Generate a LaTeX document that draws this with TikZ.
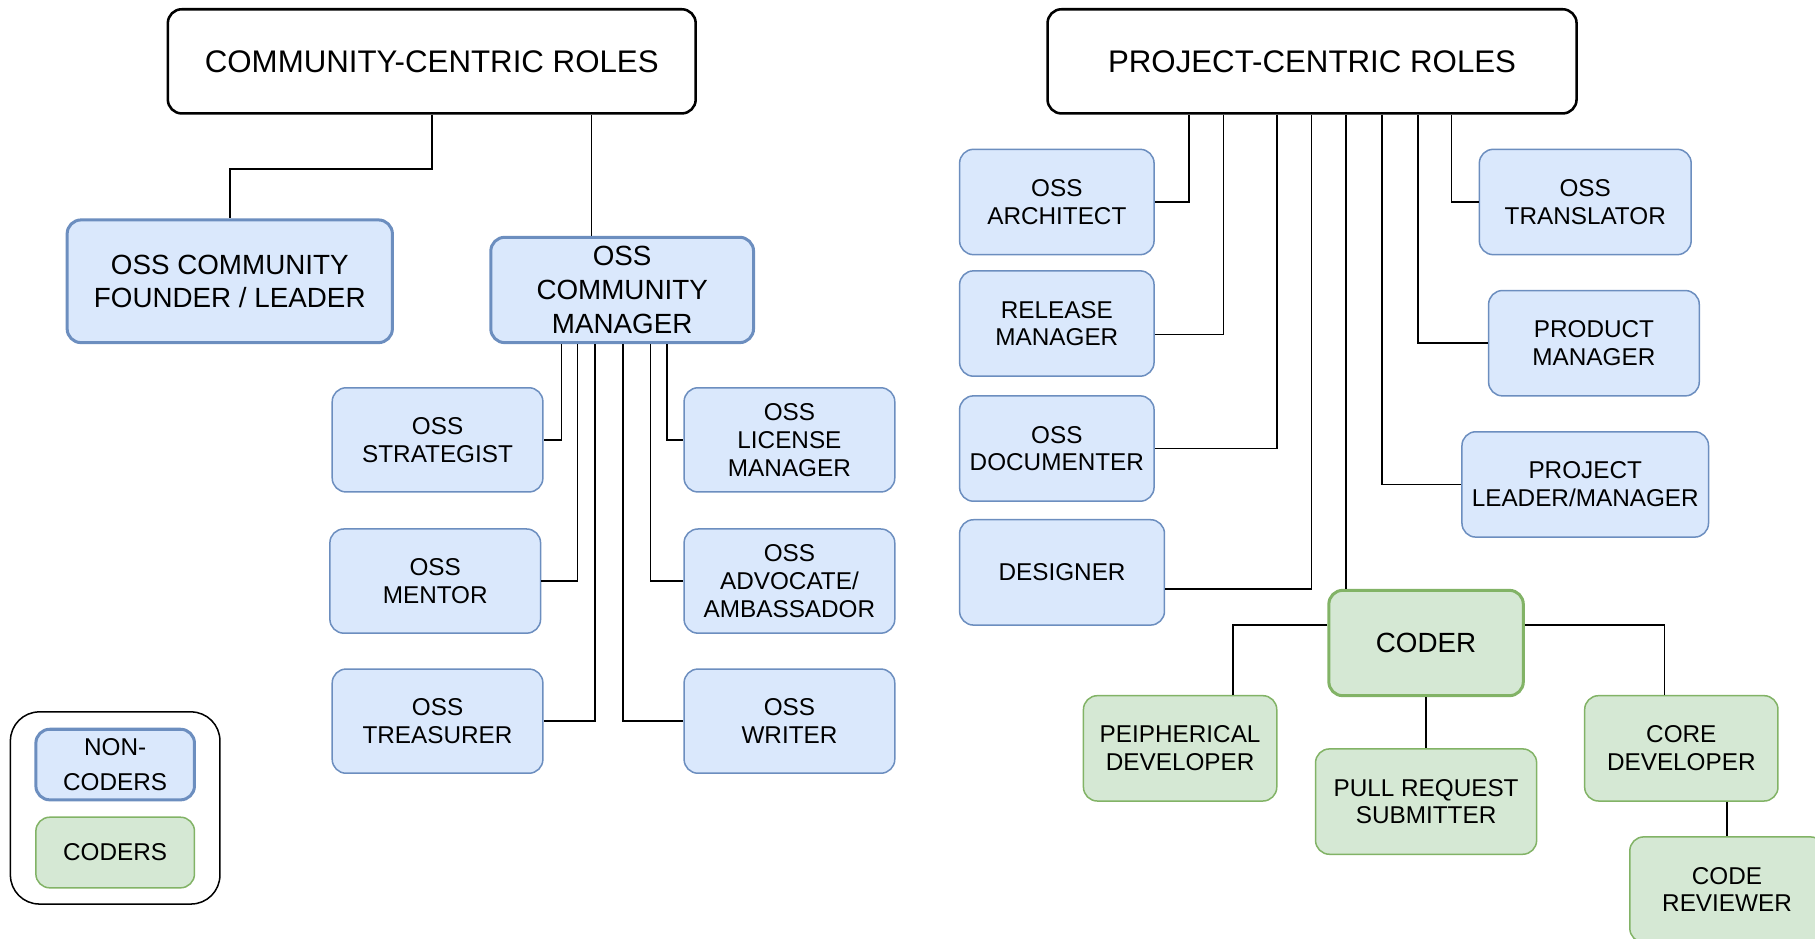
\documentclass[tikz,border=0pt]{standalone}
\usepackage{fontspec}
\setmainfont{Liberation Sans}
\definecolor{blueFill}{HTML}{DAE8FC}
\definecolor{blueLine}{HTML}{6C8EBF}
\definecolor{greenFill}{HTML}{D5E8D4}
\definecolor{greenLine}{HTML}{82B366}
\begin{document}
\begin{tikzpicture}[x=1pt,y=1pt,yscale=-1,xscale=1,
  rectHead/.style={draw=black,line width=2.2pt,fill=white,rounded corners=12pt,inner sep=0pt,font=\fontsize{27}{31}\selectfont},
  rectBlue/.style={draw=blueLine,line width=1.3pt,fill=blueFill,rounded corners=12pt,inner sep=0pt,align=center,font=\fontsize{21}{24}\selectfont},
  rectBlueBold/.style={rectBlue,line width=2.6pt,font=\fontsize{24}{29}\selectfont},
  rectGreen/.style={rectBlue,draw=greenLine,fill=greenFill},
  rectGreenBold/.style={rectGreen,line width=2.6pt,font=\fontsize{24}{29}\selectfont},
  link/.style={draw=black,line width=1.4pt}]
%set diagram frame
\useasboundingbox (0,0) rectangle (1568,811);
\clip (0,0) rectangle (1568,811);

%Shape: Rounded Rect (headers)
\node [rectHead,minimum width=456pt,minimum height=90pt] (hdrC) at (373,53) {COMMUNITY-CENTRIC ROLES};
\node [rectHead,minimum width=457pt,minimum height=90pt] (hdrP) at (1133.5,53) {PROJECT-CENTRIC ROLES};

%Shape: Rounded Rect (community side)
\node [rectBlueBold,minimum width=281pt,minimum height=106pt] (founder) at (198.5,243) {OSS COMMUNITY\\FOUNDER / LEADER};
\node [rectBlueBold,minimum width=227pt,minimum height=91pt] (cmgr) at (537.5,250.5) {OSS\\COMMUNITY\\MANAGER};
\node [rectBlue,minimum width=182pt,minimum height=90pt] (strategist) at (378,380) {OSS\\STRATEGIST};
\node [rectBlue,minimum width=182pt,minimum height=90pt] (licmgr) at (682,380) {OSS\\LICENSE\\MANAGER};
\node [rectBlue,minimum width=182pt,minimum height=90pt] (mentor) at (376,502) {OSS\\MENTOR};
\node [rectBlue,minimum width=182pt,minimum height=90pt] (advocate) at (682,502) {OSS\\ADVOCATE/\\AMBASSADOR};
\node [rectBlue,minimum width=182pt,minimum height=90pt] (treasurer) at (378,623) {OSS\\TREASURER};
\node [rectBlue,minimum width=182pt,minimum height=90pt] (writer) at (682,623) {OSS\\WRITER};

%Shape: Rounded Rect (legend)
\node [draw=black,line width=1.3pt,rounded corners=25pt,minimum width=181pt,minimum height=166pt] (legend) at (99.5,698) {};
\node [rectBlue,line width=2.6pt,minimum width=137pt,minimum height=61pt] (keyNon) at (99.5,660.5) {NON-\\[6pt]CODERS};
\node [rectGreen,minimum width=137pt,minimum height=61pt] (keyCod) at (99.5,736.5) {CODERS};

%Shape: Rounded Rect (project side)
\node [rectBlue,minimum width=168pt,minimum height=91pt] (architect) at (913,174.5) {OSS\\ARCHITECT};
\node [rectBlue,minimum width=168pt,minimum height=91pt] (release) at (913,279.5) {RELEASE\\MANAGER};
\node [rectBlue,minimum width=168pt,minimum height=91pt] (documenter) at (913,387.5) {OSS\\DOCUMENTER};
\node [rectBlue,minimum width=177pt,minimum height=91pt] (designer) at (917.5,494.5) {DESIGNER};
\node [rectBlue,minimum width=183pt,minimum height=91pt] (translator) at (1369.5,174.5) {OSS\\TRANSLATOR};
\node [rectBlue,minimum width=182pt,minimum height=91pt] (prodmgr) at (1377,296.5) {PRODUCT\\MANAGER};
\node [rectBlue,minimum width=213pt,minimum height=91pt] (projlead) at (1369.5,418.5) {PROJECT\\LEADER/MANAGER};
\node [rectGreenBold,minimum width=168pt,minimum height=91pt] (coder) at (1232,555.5) {CODER};
\node [rectGreen,minimum width=167pt,minimum height=91pt] (peripheral) at (1019.5,646.5) {PEIPHERICAL\\DEVELOPER};
\node [rectGreen,minimum width=191pt,minimum height=91pt] (pullreq) at (1232,692.5) {PULL REQUEST\\SUBMITTER};
\node [rectGreen,minimum width=167pt,minimum height=91pt] (coredev) at (1452.5,646.5) {CORE\\DEVELOPER};
\node [rectGreen,minimum width=168pt,minimum height=91pt] (reviewer) at (1492,768.5) {CODE\\REVIEWER};

%Straight Lines (community side)
\draw [link] (hdrC.south) -- ++(0,47) -| (founder.north);
\draw [link] (hdrC.south -| 511,0) -- (cmgr.north -| 511,0);
\draw [link] (cmgr.south -| 485,0) |- (strategist.east);
\draw [link] (cmgr.south -| 499,0) |- (mentor.east);
\draw [link] (cmgr.south -| 514,0) |- (treasurer.east);
\draw [link] (cmgr.south -| 538,0) |- (writer.west);
\draw [link] (cmgr.south -| 562,0) |- (advocate.west);
\draw [link] (cmgr.south -| 576,0) |- (licmgr.west);

%Straight Lines (project side)
\draw [link] (hdrP.south -| 1027,0) |- (architect.east);
\draw [link] (hdrP.south -| 1057,0) |- (release.east |- 0,289);
\draw [link] (hdrP.south -| 1103,0) |- (documenter.east);
\draw [link] (hdrP.south -| 1133,0) |- (designer.east |- 0,509);
\draw [link] (hdrP.south -| 1163,0) -- (coder.north -| 1163,0);
\draw [link] (hdrP.south -| 1194,0) |- (projlead.west);
\draw [link] (hdrP.south -| 1225,0) |- (prodmgr.west);
\draw [link] (hdrP.south -| 1254,0) |- (translator.west);

%Straight Lines (coders)
\draw [link] (coder.west |- 0,540) -| (peripheral.north -| 1065,0);
\draw [link] (coder.east |- 0,540) -| (coredev.north -| 1438,0);
\draw [link] (coder.south) -- (pullreq.north);
\draw [link] (reviewer.north |- coredev.south) -- (reviewer.north);
\end{tikzpicture}
\end{document}
